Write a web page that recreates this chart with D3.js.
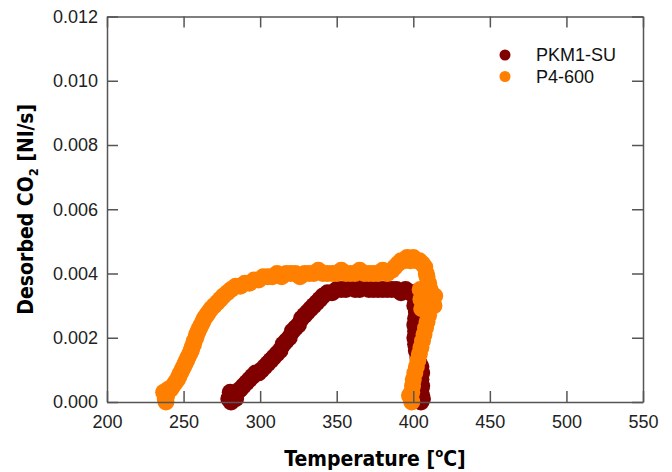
<!DOCTYPE html>
<html>
<head>
<meta charset="utf-8">
<script src="https://cdn.jsdelivr.net/npm/d3@7"></script>
<style>
  html, body { margin: 0; padding: 0; background: #fff; }
  svg { display: block; }
  .tick text { font-family: 'Liberation Sans', Arial, sans-serif; font-size: 18px; fill: #222; }
  .title { font-family: 'DejaVu Sans Condensed', 'DejaVu Sans', sans-serif; font-stretch: condensed; font-weight: bold; font-size: 21px; fill: #000; }
  .legend text { font-family: 'Liberation Sans', Arial, sans-serif; font-size: 18px; fill: #111; }
</style>
</head>
<body>
<div id="chart"></div>
<script>
// PKM1-SU: temperature (°C) and desorbed CO2 rate (Nl/s)
const pkmTemp = [279.5, 281, 282, 280.5, 284, 285, 287, 289, 291, 293, 295, 297, 299, 301, 303, 305, 307, 309, 311, 313,
  315, 317, 319, 321, 323, 325, 327, 329, 331, 333, 335, 337, 339, 341, 344, 347, 350, 353, 356, 359,
  362, 365, 368, 371, 374, 377, 380, 383, 386, 389, 392, 395, 398, 400, 401.5, 401, 402, 401.5, 401, 401.5,
  401, 401.5, 402, 403, 404, 405, 405.5, 405, 405.5, 405, 405.5, 405, 406]
const pkmRate = [0.0001, 0.0000, 0.0002, 0.0003, 0.0001, 0.0003, 0.0004, 0.0005, 0.0006, 0.0007, 0.0008, 0.0009, 0.0009, 0.0010, 0.0011, 0.0012, 0.0013, 0.0014, 0.0015, 0.0016,
  0.0018, 0.0019, 0.0020, 0.0022, 0.0023, 0.0024, 0.0026, 0.0027, 0.0028, 0.0029, 0.0030, 0.0031, 0.0032, 0.0033, 0.0034, 0.0034, 0.0035, 0.0035, 0.0035, 0.0036,
  0.0035, 0.0035, 0.0036, 0.0035, 0.0035, 0.0035, 0.0035, 0.0035, 0.0035, 0.0035, 0.0034, 0.0035, 0.0034, 0.0034, 0.0032, 0.0030, 0.0028, 0.0026, 0.0024, 0.0022,
  0.0020, 0.0018, 0.0016, 0.0014, 0.0012, 0.0011, 0.0009, 0.0007, 0.0005, 0.0004, 0.0002, 0.0000, 0.0001]

// P4-600
const p4Temp = [237, 238, 238.5, 239, 240, 241.5, 243, 244.5, 246, 247, 248, 249, 250, 251, 252, 253, 254, 255, 255.5, 256.5,
  257, 258, 258.5, 259.5, 260.5, 261.5, 262.5, 263.5, 265, 266.5, 268, 270, 272, 274, 276, 278.5, 281, 284, 287, 290,
  293, 296, 299, 302, 305, 308, 311, 314, 317, 320, 323, 326, 329, 332, 335, 338, 341, 344, 347, 350,
  353, 356, 359, 362, 365, 368, 371, 374, 377, 380, 383, 386, 388, 390, 392, 394, 396, 398, 400, 402,
  404, 406, 407.5, 408.5, 409, 410, 411, 412, 411.5, 412, 410.5, 410, 409, 408, 407, 406, 405, 404, 403, 402,
  401, 400, 399.5, 399, 398.5, 399, 397.5, 404.5, 405, 405.5, 414, 413.5]
const p4Rate = [0.0003, 0.0001, 0.0000, 0.0002, 0.0004, 0.0004, 0.0005, 0.0006, 0.0007, 0.0008, 0.0009, 0.0010, 0.0011, 0.0012, 0.0013, 0.0014, 0.0015, 0.0016, 0.0017, 0.0018,
  0.0019, 0.0020, 0.0021, 0.0022, 0.0023, 0.0024, 0.0025, 0.0026, 0.0027, 0.0028, 0.0029, 0.0030, 0.0031, 0.0032, 0.0033, 0.0034, 0.0035, 0.0036, 0.0036, 0.0037,
  0.0037, 0.0038, 0.0038, 0.0039, 0.0039, 0.0039, 0.0040, 0.0039, 0.0040, 0.0040, 0.0040, 0.0039, 0.0040, 0.0040, 0.0040, 0.0041, 0.0040, 0.0040, 0.0040, 0.0040,
  0.0041, 0.0040, 0.0040, 0.0040, 0.0041, 0.0040, 0.0040, 0.0040, 0.0040, 0.0041, 0.0040, 0.0041, 0.0042, 0.0043, 0.0044, 0.0044, 0.0045, 0.0044, 0.0045, 0.0044,
  0.0044, 0.0043, 0.0042, 0.0040, 0.0039, 0.0037, 0.0035, 0.0033, 0.0031, 0.0030, 0.0029, 0.0027, 0.0025, 0.0023, 0.0021, 0.0019, 0.0017, 0.0015, 0.0013, 0.0011,
  0.0009, 0.0007, 0.0005, 0.0003, 0.0001, 0.0000, 0.0002, 0.0035, 0.0032, 0.0029, 0.0033, 0.0030]

const xTicks = [200, 250, 300, 350, 400, 450, 500, 550]
const yTicks = [0, 0.002, 0.004, 0.006, 0.008, 0.010, 0.012]

const series = [
  { name: 'PKM1-SU', temp: pkmTemp, rate: pkmRate, color: '#800000' },
  { name: 'P4-600', temp: p4Temp, rate: p4Rate, color: '#ff8000' }
]

const width = 672, height = 472
const margin = { left: 107, right: 29, top: 16.5, bottom: 70 }
const axisColor = '#555'

const svg = d3.select('#chart').append('svg').attr('width', width).attr('height', height)

const x = d3.scaleLinear().domain([200, 550]).range([margin.left, width - margin.right])
const y = d3.scaleLinear().domain([0, 0.012]).range([height - margin.bottom, margin.top])

// points, first series underneath
series.forEach(s => {
  svg.append('g').selectAll('circle')
    .data(s.temp.map((t, i) => [t, s.rate[i]]))
    .join('circle')
    .attr('cx', d => x(d[0]))
    .attr('cy', d => y(d[1]))
    .attr('r', 8.5)
    .attr('fill', s.color)
})

// frame with inward ticks on every side
function styleAxis(g) {
  g.selectAll('.domain').attr('stroke', axisColor).attr('stroke-width', 1.5)
  g.selectAll('.tick line').attr('stroke', axisColor).attr('stroke-width', 1.5)
}

svg.append('g').attr('transform', `translate(0,${y(0)})`)
  .call(d3.axisBottom(x).tickValues(xTicks).tickSize(-11).tickSizeOuter(0).tickPadding(13).tickFormat(d3.format('d')))
  .call(styleAxis)
svg.append('g').attr('transform', `translate(0,${y(0.012)})`)
  .call(d3.axisTop(x).tickValues(xTicks).tickSize(-11).tickSizeOuter(0).tickFormat(''))
  .call(styleAxis)
svg.append('g').attr('transform', `translate(${x(200)},0)`)
  .call(d3.axisLeft(y).tickValues(yTicks).tickSize(-11).tickSizeOuter(0).tickPadding(9).tickFormat(d3.format('.3f')))
  .call(styleAxis)
svg.append('g').attr('transform', `translate(${x(550)},0)`)
  .call(d3.axisRight(y).tickValues(yTicks).tickSize(-11).tickSizeOuter(0).tickFormat(''))
  .call(styleAxis)

svg.selectAll('.tick text').attr('fill', '#222')

// axis titles
const xt = svg.append('text').attr('class', 'title')
  .attr('x', (x(200) + x(550)) / 2).attr('y', 466).attr('text-anchor', 'middle')
xt.append('tspan').text('Temperature [')
xt.append('tspan').attr('font-size', '13px').attr('dy', -9).text('o')
xt.append('tspan').attr('dy', 9).text('C]')

const yt = svg.append('text').attr('class', 'title')
  .attr('transform', `translate(33,${(y(0) + y(0.012)) / 2}) rotate(-90)`).attr('text-anchor', 'middle')
yt.append('tspan').text('Desorbed CO')
yt.append('tspan').attr('font-size', '13px').attr('dy', 5).text('2')
yt.append('tspan').attr('dy', -5).text(' [Nl/s]')

// legend
const legend = svg.append('g').attr('class', 'legend')
series.forEach((s, i) => {
  const row = legend.append('g').attr('transform', `translate(505,${55 + i * 21.5})`)
  row.append('circle').attr('r', 5.5).attr('fill', s.color)
  row.append('text').attr('x', 31).attr('dy', '0.35em').text(s.name)
})
</script>
</body>
</html>
